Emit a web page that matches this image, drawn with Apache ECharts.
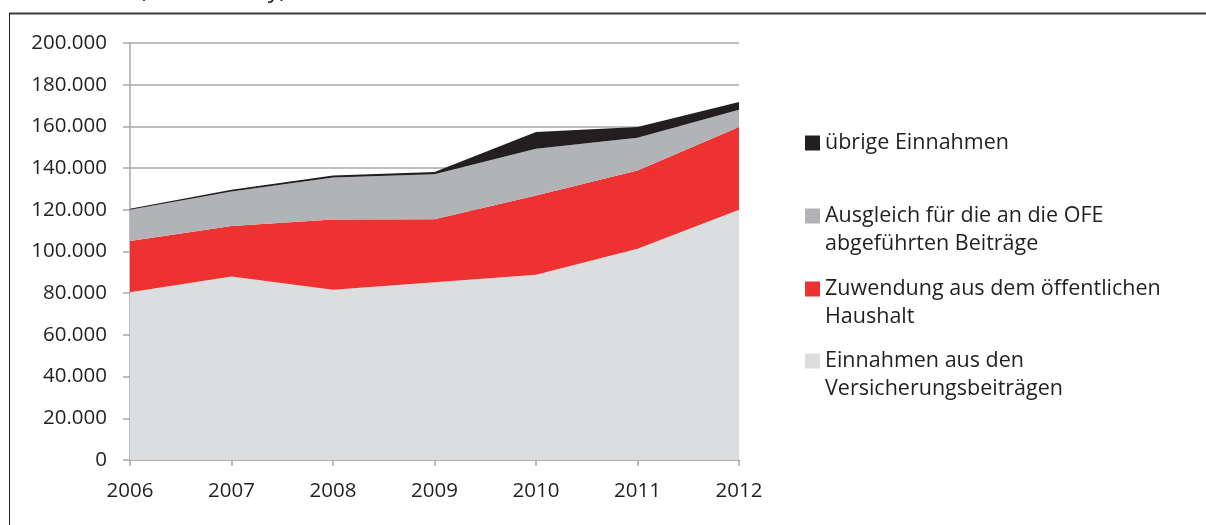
<!DOCTYPE html>
<html>
<head>
<meta charset="utf-8">
<script src="https://cdn.jsdelivr.net/npm/echarts@6/dist/echarts.min.js"></script>
<style>
  html, body { margin: 0; padding: 0; background: #fff; }
  #chart { width: 1206px; height: 525px; }
</style>
</head>
<body>
<div id="chart"></div>
<script>
const years = ['2006', '2007', '2008', '2009', '2010', '2011', '2012']

// Werte in Mio. Zloty
const versicherungsbeitraege = [80500, 88000, 81600, 85300, 88800, 101300, 120000]
const zuwendungHaushalt = [24500, 24200, 33800, 30200, 38100, 37600, 39700]
const ausgleichOFE = [15000, 16600, 20100, 21500, 22400, 15700, 8300]
const uebrigeEinnahmen = [500, 800, 1000, 1100, 8000, 5100, 3700]

const names = {
  versicherung: 'Einnahmen aus den\nVersicherungsbeiträgen',
  zuwendung: 'Zuwendung aus dem öffentlichen\nHaushalt',
  ausgleich: 'Ausgleich für die an die OFE\nabgeführten Beiträge',
  uebrige: 'übrige Einnahmen'
}

const yTicks = { min: 0, max: 200000, interval: 20000 }

const font = '"Open Sans", "Noto Sans", sans-serif'
const textColor = '#231f20'
const axisGray = '#a7a8aa'

const myChart = echarts.init(document.getElementById('chart'))

function fmt(value) {
  return String(value).replace(/\B(?=(\d{3})+(?!\d))/g, '.')
}

function areaSeries(name, data, color) {
  return {
    name,
    type: 'line',
    stack: 'total',
    data,
    symbol: 'none',
    itemStyle: { color },
    lineStyle: { width: 0 },
    areaStyle: { color, opacity: 1 },
    emphasis: { disabled: true }
  }
}

// two-line entries get an empty first line so the square sits next to line one
function legendItem(name, top, twoLines) {
  return {
    data: [name],
    orient: 'vertical',
    left: 805,
    top,
    padding: 0,
    icon: 'rect',
    itemWidth: 15,
    itemHeight: 15,
    itemGap: 0,
    selectedMode: false,
    itemStyle: { borderWidth: 0 },
    formatter: (n) => (twoLines ? ' \n' + n : n),
    textStyle: {
      fontFamily: font,
      fontSize: 21.5,
      color: textColor,
      lineHeight: 28
    }
  }
}

const option = {
  animation: false,
  textStyle: { fontFamily: font },
  title: {
    text: '(in Mio. Zloty)',
    left: 139,
    top: -22,
    padding: 0,
    textStyle: { fontFamily: font, fontSize: 23.5, fontWeight: 'normal', color: textColor }
  },
  graphic: [
    {
      type: 'line',
      shape: { x1: 9, y1: 13.5, x2: 1206, y2: 13.5 },
      style: { stroke: '#3d3d3d', lineWidth: 2 },
      silent: true
    },
    {
      type: 'line',
      shape: { x1: 9.5, y1: 13, x2: 9.5, y2: 525 },
      style: { stroke: '#231f20', lineWidth: 1 },
      silent: true
    }
  ],
  legend: [
    legendItem(names.uebrige, 129, false),
    legendItem(names.ausgleich, 174, true),
    legendItem(names.zuwendung, 247, true),
    legendItem(names.versicherung, 319, true)
  ],
  grid: { left: 130, right: 467, top: 43, bottom: 65, containLabel: false },
  xAxis: {
    type: 'category',
    data: years,
    boundaryGap: false,
    axisLine: { lineStyle: { color: axisGray, width: 1.5 } },
    axisTick: { show: true, length: 6, lineStyle: { color: axisGray, width: 1.5 } },
    axisLabel: { color: textColor, fontSize: 20.5, fontFamily: font, margin: 21 },
    splitLine: { show: false }
  },
  yAxis: {
    type: 'value',
    min: yTicks.min,
    max: yTicks.max,
    interval: yTicks.interval,
    axisLine: { show: true, lineStyle: { color: axisGray, width: 1.5 } },
    axisTick: { show: true, length: 7, lineStyle: { color: axisGray, width: 1.5 } },
    axisLabel: { color: textColor, fontSize: 20.5, fontFamily: font, margin: 23, formatter: fmt },
    splitLine: { show: true, lineStyle: { color: axisGray, width: 1.5 } }
  },
  series: [
    areaSeries(names.versicherung, versicherungsbeitraege, '#dcdddf'),
    areaSeries(names.zuwendung, zuwendungHaushalt, '#ee3131'),
    areaSeries(names.ausgleich, ausgleichOFE, '#b1b3b6'),
    areaSeries(names.uebrige, uebrigeEinnahmen, '#231f20')
  ]
}

myChart.setOption(option)
</script>
</body>
</html>
